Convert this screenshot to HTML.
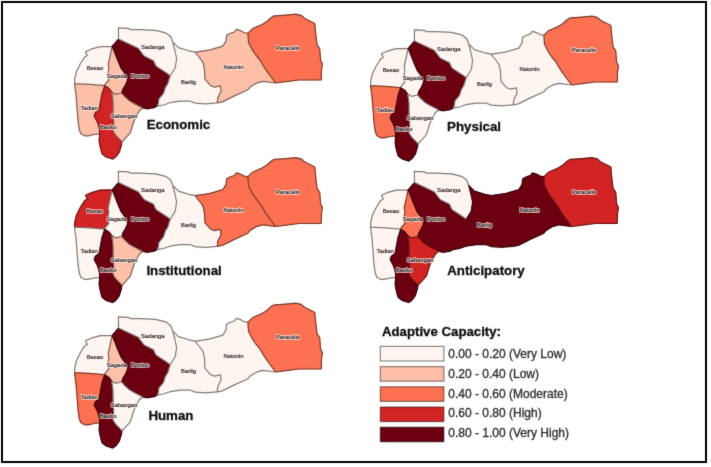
<!DOCTYPE html>
<html><head><meta charset="utf-8">
<style>
html,body{margin:0;padding:0;background:#fff;}
body{width:711px;height:467px;overflow:hidden;position:relative;}
#wrap{position:absolute;left:0;top:0;width:711px;height:467px;will-change:transform;}
.lbh{font-family:"Liberation Sans",sans-serif;font-size:5.85px;fill:none;text-anchor:middle;stroke:rgba(255,236,234,0.7);stroke-width:1.8px;stroke-linejoin:round;}
.lb{font-family:"Liberation Sans",sans-serif;font-size:5.85px;fill:#3a3a3a;text-anchor:middle;stroke:#3a3a3a;stroke-width:0.22px;}
.tt{font-family:"Liberation Sans",sans-serif;font-size:13.3px;font-weight:bold;fill:#111;stroke:#111;stroke-width:0.3px;}
.lg{font-family:"Liberation Sans",sans-serif;font-size:12.6px;font-weight:bold;fill:#111;stroke:#111;stroke-width:0.3px;}
.lt{font-family:"Liberation Sans",sans-serif;font-size:12px;fill:#333;stroke:#333;stroke-width:0.35px;}
</style></head>
<body>
<div id="wrap"><svg width="711" height="467" viewBox="0 0 711 467">
<defs><filter id="soft" x="0" y="0" width="711" height="467" filterUnits="userSpaceOnUse" primitiveUnits="userSpaceOnUse" color-interpolation-filters="sRGB"><feConvolveMatrix order="3" kernelMatrix="0.0100 0.0800 0.0100 0.0800 0.6400 0.0800 0.0100 0.0800 0.0100" edgeMode="duplicate"/></filter></defs>
<g filter="url(#soft)">
<rect x="0" y="0" width="711" height="467" fill="#fff"/>
<rect x="2" y="2" width="704" height="460" fill="#fff" stroke="#000" stroke-width="2"/>
<defs>
<path id="pBesao" d="M112.1,46.3 100.1,46.6 91.1,49.2 85.4,51.8 87.3,55.4 84.7,56.9 80.2,64 76.4,71.7 74.7,79 74.5,83.7 89.3,84.4 104.7,85.7 105.3,84 108.8,80 107.8,74.5 108.9,69 108.2,64.5 110.4,54.5Z"/>
<path id="pSagada" d="M112.1,46.3 114.5,52 117.6,60 121.2,68.4 124.7,73.1 127.7,80.1 125.3,85.4 123,89 121.8,93 115.3,94.3 111.8,92 108.8,88.2 104.7,85.7 105.3,84 108.8,80 107.8,74.5 108.9,69 108.2,64.5 110.4,54.5Z"/>
<path id="pBontoc" d="M112.1,46.3 118.5,39 138.2,48.3 144,56 153.5,60.7 155.8,66 166.4,73 170.2,75.7 167.7,83.7 165.4,87.2 163.6,93.1 158.9,99 158.3,103.7 157.1,106.1 154.2,107.7 147.1,108.8 142.5,107.8 135,104 129.4,100.7 123.6,95.4 121.8,93 123,89 125.3,85.4 127.7,80.1 124.7,73.1 121.2,68.4 117.6,60 114.5,52Z"/>
<path id="pSadanga" d="M118.4,27.8 128.3,28.4 130.8,29.7 140,29.6 155.4,30.3 165.7,32.8 170.8,36.7 172.7,41.8 174.7,49.5 176.6,58.5 175.3,67.5 170.2,75.7 166.4,73 155.8,66 153.5,60.7 144,56 138.2,48.3 118.5,39Z"/>
<path id="pBarlig" d="M172.7,41.8 178.5,47.6 188.8,50.8 195.2,52.1 197.3,55 200.5,59 203.1,62.7 204.4,69.1 205,79.4 210.8,85.8 214.7,87.1 220.4,85.8 221.1,91 217.9,97.4 217.2,102.8 205.7,103.8 195.4,103.1 190.3,101.2 180,101.2 170,102.7 163.5,105 157.1,106.1 158.3,103.7 158.9,99 163.6,93.1 165.4,87.2 167.7,83.7 170.2,75.7 175.3,67.5 176.6,58.5 174.7,49.5Z"/>
<path id="pNatonin" d="M195.2,52.1 204.2,50.8 210,49.9 222.8,46.1 226,40.9 226.7,35.2 230.5,33.2 234.4,32 236.3,29.4 240.8,30.7 244,32.6 247.9,33.2 248.5,42.2 252.4,49.9 255.8,55 260,60.2 265.4,69.1 275.5,83 262.8,81.3 256.4,83.2 250,87.1 248,89.7 233.9,96.1 222.4,101.9 217.2,102.8 217.9,97.4 221.1,91 220.4,85.8 214.7,87.1 210.8,85.8 205,79.4 204.4,69.1 203.1,62.7 200.5,59 197.3,55Z"/>
<path id="pParacelis" d="M247.9,33.2 252.4,28.7 261.3,24.9 266.5,21.7 271.6,17.2 274.2,15.9 283.1,15.3 295.9,14.2 301.1,15.3 304.9,18.5 313.9,23 314.8,23.4 315.8,34.5 317.1,44.8 319.7,48.6 320.6,60.1 322.5,64 321.6,69.1 321.2,80 298.8,80 288.5,81.3 275.5,83 265.4,69.1 260,60.2 255.8,55 252.4,49.9 248.5,42.2Z"/>
<path id="pTadian" d="M74.5,83.7 76,94.9 77,107.7 78,120.6 79.2,129.6 80.9,133.8 84.7,135.8 88,135.9 96.6,134 99.6,134.4 99.5,130 98.6,125.6 97.2,121.7 94.2,116.2 95.2,112.8 99.1,109.8 100.5,102 102.1,93.6 104.7,85.7 89.3,84.4Z"/>
<path id="pBauko" d="M104.7,85.7 108.8,88.2 111.8,92 113,101.3 113.1,110.8 113.7,123.6 113.1,131.3 115.6,135.2 120.1,139.8 121.9,141.8 121.4,145.4 119.3,152.2 116.3,156.5 112.9,159.1 109.9,158.2 106,156.9 102.1,153.9 100.4,147.9 99.1,141.1 99.6,134.4 99.5,130 98.6,125.6 97.2,121.7 94.2,116.2 95.2,112.8 99.1,109.8 100.5,102 102.1,93.6Z"/>
<path id="pSabangan" d="M111.8,92 115.3,94.3 121.8,93 123.6,95.4 129.4,100.7 135,104 142.5,107.8 139.4,110.8 135.6,117.2 133.6,122.3 130.4,132.6 124,139.8 121.9,141.8 120.1,139.8 115.6,135.2 113.1,131.3 113.7,123.6 113.1,110.8 113,101.3Z"/>
<path id="arcs" d="M112.1,46.3 100.1,46.6 91.1,49.2 85.4,51.8 87.3,55.4 84.7,56.9 80.2,64 76.4,71.7 74.7,79 74.5,83.7 M74.5,83.7 89.3,84.4 104.7,85.7 M104.7,85.7 105.3,84 108.8,80 107.8,74.5 108.9,69 108.2,64.5 110.4,54.5 112.1,46.3 M112.1,46.3 114.5,52 117.6,60 121.2,68.4 124.7,73.1 127.7,80.1 125.3,85.4 123,89 121.8,93 M112.1,46.3 118.5,39 M118.5,39 118.4,27.8 M118.4,27.8 128.3,28.4 130.8,29.7 140,29.6 155.4,30.3 165.7,32.8 170.8,36.7 172.7,41.8 M118.5,39 138.2,48.3 144,56 153.5,60.7 155.8,66 166.4,73 170.2,75.7 M172.7,41.8 174.7,49.5 176.6,58.5 175.3,67.5 170.2,75.7 M170.2,75.7 167.7,83.7 165.4,87.2 163.6,93.1 158.9,99 158.3,103.7 157.1,106.1 M157.1,106.1 154.2,107.7 147.1,108.8 142.5,107.8 M142.5,107.8 135,104 129.4,100.7 123.6,95.4 121.8,93 M157.1,106.1 163.5,105 170,102.7 180,101.2 190.3,101.2 195.4,103.1 205.7,103.8 217.2,102.8 M172.7,41.8 178.5,47.6 188.8,50.8 195.2,52.1 M195.2,52.1 197.3,55 200.5,59 203.1,62.7 204.4,69.1 205,79.4 210.8,85.8 214.7,87.1 220.4,85.8 221.1,91 217.9,97.4 217.2,102.8 M195.2,52.1 204.2,50.8 210,49.9 222.8,46.1 226,40.9 226.7,35.2 230.5,33.2 234.4,32 236.3,29.4 240.8,30.7 244,32.6 247.9,33.2 M247.9,33.2 248.5,42.2 252.4,49.9 255.8,55 260,60.2 265.4,69.1 275.5,83 M275.5,83 262.8,81.3 256.4,83.2 250,87.1 248,89.7 233.9,96.1 222.4,101.9 217.2,102.8 M247.9,33.2 252.4,28.7 261.3,24.9 266.5,21.7 271.6,17.2 274.2,15.9 283.1,15.3 295.9,14.2 301.1,15.3 304.9,18.5 313.9,23 314.8,23.4 315.8,34.5 317.1,44.8 319.7,48.6 320.6,60.1 322.5,64 321.6,69.1 321.2,80 298.8,80 288.5,81.3 275.5,83 M74.5,83.7 76,94.9 77,107.7 78,120.6 79.2,129.6 80.9,133.8 84.7,135.8 88,135.9 96.6,134 99.6,134.4 M104.7,85.7 102.1,93.6 100.5,102 99.1,109.8 95.2,112.8 94.2,116.2 97.2,121.7 98.6,125.6 99.5,130 99.6,134.4 M99.6,134.4 99.1,141.1 100.4,147.9 102.1,153.9 106,156.9 109.9,158.2 112.9,159.1 116.3,156.5 119.3,152.2 121.4,145.4 121.9,141.8 M104.7,85.7 108.8,88.2 111.8,92 M111.8,92 115.3,94.3 121.8,93 M111.8,92 113,101.3 113.1,110.8 113.7,123.6 113.1,131.3 115.6,135.2 120.1,139.8 121.9,141.8 M142.5,107.8 139.4,110.8 135.6,117.2 133.6,122.3 130.4,132.6 124,139.8 121.9,141.8" fill="none" stroke="rgba(0,0,0,0.5)" stroke-width="1.2" stroke-linejoin="round" stroke-linecap="round"/>
</defs>
<g transform="translate(0,0)">
<use href="#pBesao" fill="#fef5f1" stroke="#fef5f1" stroke-width="1"/>
<use href="#pSagada" fill="#fcbfa7" stroke="#fcbfa7" stroke-width="1"/>
<use href="#pBontoc" fill="#6a0010" stroke="#6a0010" stroke-width="1"/>
<use href="#pSadanga" fill="#fef5f1" stroke="#fef5f1" stroke-width="1"/>
<use href="#pBarlig" fill="#fef5f1" stroke="#fef5f1" stroke-width="1"/>
<use href="#pNatonin" fill="#fcbfa7" stroke="#fcbfa7" stroke-width="1"/>
<use href="#pParacelis" fill="#fb7151" stroke="#fb7151" stroke-width="1"/>
<use href="#pTadian" fill="#fcbfa7" stroke="#fcbfa7" stroke-width="1"/>
<use href="#pBauko" fill="#d22325" stroke="#d22325" stroke-width="1"/>
<use href="#pSabangan" fill="#fcbfa7" stroke="#fcbfa7" stroke-width="1"/>
<use href="#arcs"/>
<text class="lbh" x="95" y="69.5">Besao</text><text class="lb" x="95" y="69.5">Besao</text>
<text class="lbh" x="116.8" y="77.5">Sagada</text><text class="lb" x="116.8" y="77.5">Sagada</text>
<text class="lbh" x="140.1" y="77.5">Bontoc</text><text class="lb" x="140.1" y="77.5">Bontoc</text>
<text class="lbh" x="152.8" y="48.5">Sadanga</text><text class="lb" x="152.8" y="48.5">Sadanga</text>
<text class="lbh" x="188.6" y="83.5">Barlig</text><text class="lb" x="188.6" y="83.5">Barlig</text>
<text class="lbh" x="233.5" y="68.7">Natonin</text><text class="lb" x="233.5" y="68.7">Natonin</text>
<text class="lbh" x="288" y="50.1">Paracelis</text><text class="lb" x="288" y="50.1">Paracelis</text>
<text class="lbh" x="89.2" y="109.8">Tadian</text><text class="lb" x="89.2" y="109.8">Tadian</text>
<text class="lbh" x="108.2" y="128.5">Bauko</text><text class="lb" x="108.2" y="128.5">Bauko</text>
<text class="lbh" x="124.2" y="118.2">Sabangan</text><text class="lb" x="124.2" y="118.2">Sabangan</text>
</g>
<text class="tt" x="146.7" y="129.4">Economic</text>
<g transform="translate(296,2)">
<use href="#pBesao" fill="#fef5f1" stroke="#fef5f1" stroke-width="1"/>
<use href="#pSagada" fill="#fef5f1" stroke="#fef5f1" stroke-width="1"/>
<use href="#pBontoc" fill="#6a0010" stroke="#6a0010" stroke-width="1"/>
<use href="#pSadanga" fill="#fef5f1" stroke="#fef5f1" stroke-width="1"/>
<use href="#pBarlig" fill="#fef5f1" stroke="#fef5f1" stroke-width="1"/>
<use href="#pNatonin" fill="#fef5f1" stroke="#fef5f1" stroke-width="1"/>
<use href="#pParacelis" fill="#fb7151" stroke="#fb7151" stroke-width="1"/>
<use href="#pTadian" fill="#fb7151" stroke="#fb7151" stroke-width="1"/>
<use href="#pBauko" fill="#6a0010" stroke="#6a0010" stroke-width="1"/>
<use href="#pSabangan" fill="#fef5f1" stroke="#fef5f1" stroke-width="1"/>
<use href="#arcs"/>
<text class="lbh" x="95" y="69.5">Besao</text><text class="lb" x="95" y="69.5">Besao</text>
<text class="lbh" x="116.8" y="77.5">Sagada</text><text class="lb" x="116.8" y="77.5">Sagada</text>
<text class="lbh" x="140.1" y="77.5">Bontoc</text><text class="lb" x="140.1" y="77.5">Bontoc</text>
<text class="lbh" x="152.8" y="48.5">Sadanga</text><text class="lb" x="152.8" y="48.5">Sadanga</text>
<text class="lbh" x="188.6" y="83.5">Barlig</text><text class="lb" x="188.6" y="83.5">Barlig</text>
<text class="lbh" x="233.5" y="68.7">Natonin</text><text class="lb" x="233.5" y="68.7">Natonin</text>
<text class="lbh" x="288" y="50.1">Paracelis</text><text class="lb" x="288" y="50.1">Paracelis</text>
<text class="lbh" x="89.2" y="109.8">Tadian</text><text class="lb" x="89.2" y="109.8">Tadian</text>
<text class="lbh" x="108.2" y="128.5">Bauko</text><text class="lb" x="108.2" y="128.5">Bauko</text>
<text class="lbh" x="124.2" y="118.2">Sabangan</text><text class="lb" x="124.2" y="118.2">Sabangan</text>
</g>
<text class="tt" x="447.1" y="131">Physical</text>
<g transform="translate(0,143.5)">
<use href="#pBesao" fill="#d22325" stroke="#d22325" stroke-width="1"/>
<use href="#pSagada" fill="#fef5f1" stroke="#fef5f1" stroke-width="1"/>
<use href="#pBontoc" fill="#6a0010" stroke="#6a0010" stroke-width="1"/>
<use href="#pSadanga" fill="#fef5f1" stroke="#fef5f1" stroke-width="1"/>
<use href="#pBarlig" fill="#fef5f1" stroke="#fef5f1" stroke-width="1"/>
<use href="#pNatonin" fill="#fb7151" stroke="#fb7151" stroke-width="1"/>
<use href="#pParacelis" fill="#fb7151" stroke="#fb7151" stroke-width="1"/>
<use href="#pTadian" fill="#fef5f1" stroke="#fef5f1" stroke-width="1"/>
<use href="#pBauko" fill="#6a0010" stroke="#6a0010" stroke-width="1"/>
<use href="#pSabangan" fill="#fcbfa7" stroke="#fcbfa7" stroke-width="1"/>
<use href="#arcs"/>
<text class="lbh" x="95" y="69.5">Besao</text><text class="lb" x="95" y="69.5">Besao</text>
<text class="lbh" x="116.8" y="77.5">Sagada</text><text class="lb" x="116.8" y="77.5">Sagada</text>
<text class="lbh" x="140.1" y="77.5">Bontoc</text><text class="lb" x="140.1" y="77.5">Bontoc</text>
<text class="lbh" x="152.8" y="48.5">Sadanga</text><text class="lb" x="152.8" y="48.5">Sadanga</text>
<text class="lbh" x="188.6" y="83.5">Barlig</text><text class="lb" x="188.6" y="83.5">Barlig</text>
<text class="lbh" x="233.5" y="68.7">Natonin</text><text class="lb" x="233.5" y="68.7">Natonin</text>
<text class="lbh" x="288" y="50.1">Paracelis</text><text class="lb" x="288" y="50.1">Paracelis</text>
<text class="lbh" x="89.2" y="109.8">Tadian</text><text class="lb" x="89.2" y="109.8">Tadian</text>
<text class="lbh" x="108.2" y="128.5">Bauko</text><text class="lb" x="108.2" y="128.5">Bauko</text>
<text class="lbh" x="124.2" y="118.2">Sabangan</text><text class="lb" x="124.2" y="118.2">Sabangan</text>
</g>
<text class="tt" x="146.4" y="274.7">Institutional</text>
<g transform="translate(296,143.5)">
<use href="#pBesao" fill="#fef5f1" stroke="#fef5f1" stroke-width="1"/>
<use href="#pSagada" fill="#fb7151" stroke="#fb7151" stroke-width="1"/>
<use href="#pBontoc" fill="#6a0010" stroke="#6a0010" stroke-width="1"/>
<use href="#pSadanga" fill="#fef5f1" stroke="#fef5f1" stroke-width="1"/>
<use href="#pBarlig" fill="#6a0010" stroke="#6a0010" stroke-width="1"/>
<use href="#pNatonin" fill="#6a0010" stroke="#6a0010" stroke-width="1"/>
<use href="#pParacelis" fill="#d22325" stroke="#d22325" stroke-width="1"/>
<use href="#pTadian" fill="#fef5f1" stroke="#fef5f1" stroke-width="1"/>
<use href="#pBauko" fill="#6a0010" stroke="#6a0010" stroke-width="1"/>
<use href="#pSabangan" fill="#d22325" stroke="#d22325" stroke-width="1"/>
<path d="M112.1,46.3 100.1,46.6 91.1,49.2 85.4,51.8 87.3,55.4 84.7,56.9 80.2,64 76.4,71.7 74.7,79 74.5,83.7 M74.5,83.7 89.3,84.4 104.7,85.7 M104.7,85.7 105.3,84 108.8,80 107.8,74.5 108.9,69 108.2,64.5 110.4,54.5 112.1,46.3 M112.1,46.3 114.5,52 117.6,60 121.2,68.4 124.7,73.1 127.7,80.1 125.3,85.4 123,89 121.8,93 M112.1,46.3 118.5,39 M118.5,39 118.4,27.8 M118.4,27.8 128.3,28.4 130.8,29.7 140,29.6 155.4,30.3 165.7,32.8 170.8,36.7 172.7,41.8 M118.5,39 138.2,48.3 144,56 153.5,60.7 155.8,66 166.4,73 170.2,75.7 M172.7,41.8 174.7,49.5 176.6,58.5 175.3,67.5 170.2,75.7 M157.1,106.1 154.2,107.7 147.1,108.8 142.5,107.8 M142.5,107.8 135,104 129.4,100.7 123.6,95.4 121.8,93 M157.1,106.1 163.5,105 170,102.7 180,101.2 190.3,101.2 195.4,103.1 205.7,103.8 217.2,102.8 M172.7,41.8 178.5,47.6 188.8,50.8 195.2,52.1 M195.2,52.1 204.2,50.8 210,49.9 222.8,46.1 226,40.9 226.7,35.2 230.5,33.2 234.4,32 236.3,29.4 240.8,30.7 244,32.6 247.9,33.2 M247.9,33.2 248.5,42.2 252.4,49.9 255.8,55 260,60.2 265.4,69.1 275.5,83 M275.5,83 262.8,81.3 256.4,83.2 250,87.1 248,89.7 233.9,96.1 222.4,101.9 217.2,102.8 M247.9,33.2 252.4,28.7 261.3,24.9 266.5,21.7 271.6,17.2 274.2,15.9 283.1,15.3 295.9,14.2 301.1,15.3 304.9,18.5 313.9,23 314.8,23.4 315.8,34.5 317.1,44.8 319.7,48.6 320.6,60.1 322.5,64 321.6,69.1 321.2,80 298.8,80 288.5,81.3 275.5,83 M74.5,83.7 76,94.9 77,107.7 78,120.6 79.2,129.6 80.9,133.8 84.7,135.8 88,135.9 96.6,134 99.6,134.4 M104.7,85.7 102.1,93.6 100.5,102 99.1,109.8 95.2,112.8 94.2,116.2 97.2,121.7 98.6,125.6 99.5,130 99.6,134.4 M99.6,134.4 99.1,141.1 100.4,147.9 102.1,153.9 106,156.9 109.9,158.2 112.9,159.1 116.3,156.5 119.3,152.2 121.4,145.4 121.9,141.8 M104.7,85.7 108.8,88.2 111.8,92 M111.8,92 115.3,94.3 121.8,93 M111.8,92 113,101.3 113.1,110.8 113.7,123.6 113.1,131.3 115.6,135.2 120.1,139.8 121.9,141.8 M142.5,107.8 139.4,110.8 135.6,117.2 133.6,122.3 130.4,132.6 124,139.8 121.9,141.8" fill="none" stroke="rgba(0,0,0,0.5)" stroke-width="1.2" stroke-linejoin="round" stroke-linecap="round"/>
<text class="lbh" x="95" y="69.5">Besao</text><text class="lb" x="95" y="69.5">Besao</text>
<text class="lbh" x="116.8" y="77.5">Sagada</text><text class="lb" x="116.8" y="77.5">Sagada</text>
<text class="lbh" x="140.1" y="77.5">Bontoc</text><text class="lb" x="140.1" y="77.5">Bontoc</text>
<text class="lbh" x="152.8" y="48.5">Sadanga</text><text class="lb" x="152.8" y="48.5">Sadanga</text>
<text class="lbh" x="188.6" y="83.5">Barlig</text><text class="lb" x="188.6" y="83.5">Barlig</text>
<text class="lbh" x="233.5" y="68.7">Natonin</text><text class="lb" x="233.5" y="68.7">Natonin</text>
<text class="lbh" x="288" y="50.1">Paracelis</text><text class="lb" x="288" y="50.1">Paracelis</text>
<text class="lbh" x="89.2" y="109.8">Tadian</text><text class="lb" x="89.2" y="109.8">Tadian</text>
<text class="lbh" x="108.2" y="128.5">Bauko</text><text class="lb" x="108.2" y="128.5">Bauko</text>
<text class="lbh" x="124.2" y="118.2">Sabangan</text><text class="lb" x="124.2" y="118.2">Sabangan</text>
</g>
<text class="tt" x="447.2" y="275.1">Anticipatory</text>
<g transform="translate(0,289)">
<use href="#pBesao" fill="#fef5f1" stroke="#fef5f1" stroke-width="1"/>
<use href="#pSagada" fill="#fcbfa7" stroke="#fcbfa7" stroke-width="1"/>
<use href="#pBontoc" fill="#6a0010" stroke="#6a0010" stroke-width="1"/>
<use href="#pSadanga" fill="#fef5f1" stroke="#fef5f1" stroke-width="1"/>
<use href="#pBarlig" fill="#fef5f1" stroke="#fef5f1" stroke-width="1"/>
<use href="#pNatonin" fill="#fef5f1" stroke="#fef5f1" stroke-width="1"/>
<use href="#pParacelis" fill="#fb7151" stroke="#fb7151" stroke-width="1"/>
<use href="#pTadian" fill="#fb7151" stroke="#fb7151" stroke-width="1"/>
<use href="#pBauko" fill="#6a0010" stroke="#6a0010" stroke-width="1"/>
<use href="#pSabangan" fill="#fef5f1" stroke="#fef5f1" stroke-width="1"/>
<use href="#arcs"/>
<text class="lbh" x="95" y="69.5">Besao</text><text class="lb" x="95" y="69.5">Besao</text>
<text class="lbh" x="116.8" y="77.5">Sagada</text><text class="lb" x="116.8" y="77.5">Sagada</text>
<text class="lbh" x="140.1" y="77.5">Bontoc</text><text class="lb" x="140.1" y="77.5">Bontoc</text>
<text class="lbh" x="152.8" y="48.5">Sadanga</text><text class="lb" x="152.8" y="48.5">Sadanga</text>
<text class="lbh" x="188.6" y="83.5">Barlig</text><text class="lb" x="188.6" y="83.5">Barlig</text>
<text class="lbh" x="233.5" y="68.7">Natonin</text><text class="lb" x="233.5" y="68.7">Natonin</text>
<text class="lbh" x="288" y="50.1">Paracelis</text><text class="lb" x="288" y="50.1">Paracelis</text>
<text class="lbh" x="89.2" y="109.8">Tadian</text><text class="lb" x="89.2" y="109.8">Tadian</text>
<text class="lbh" x="108.2" y="128.5">Bauko</text><text class="lb" x="108.2" y="128.5">Bauko</text>
<text class="lbh" x="124.2" y="118.2">Sabangan</text><text class="lb" x="124.2" y="118.2">Sabangan</text>
</g>
<text class="tt" x="148.4" y="420">Human</text>
<text class="lg" x="382" y="336" textLength="119" lengthAdjust="spacingAndGlyphs">Adaptive Capacity:</text>
<rect x="380.3" y="346.4" width="63.6" height="14.6" fill="#fef5f1" stroke="rgba(0,0,0,0.45)" stroke-width="1.2"/>
<text class="lt" x="448.3" y="358">0.00 - 0.20 (Very Low)</text>
<rect x="380.3" y="366.6" width="63.6" height="14.6" fill="#fcbfa7" stroke="rgba(0,0,0,0.45)" stroke-width="1.2"/>
<text class="lt" x="448.3" y="377.8">0.20 - 0.40 (Low)</text>
<rect x="380.3" y="386.8" width="63.6" height="14.6" fill="#fb7151" stroke="rgba(0,0,0,0.45)" stroke-width="1.2"/>
<text class="lt" x="448.3" y="397.6">0.40 - 0.60 (Moderate)</text>
<rect x="380.3" y="407" width="63.6" height="14.6" fill="#d22325" stroke="rgba(0,0,0,0.45)" stroke-width="1.2"/>
<text class="lt" x="448.3" y="417.4">0.60 - 0.80 (High)</text>
<rect x="380.3" y="427.2" width="63.6" height="14.6" fill="#6a0010" stroke="rgba(0,0,0,0.45)" stroke-width="1.2"/>
<text class="lt" x="448.3" y="437.2">0.80 - 1.00 (Very High)</text>
</g>
</svg></div>
</body></html>
